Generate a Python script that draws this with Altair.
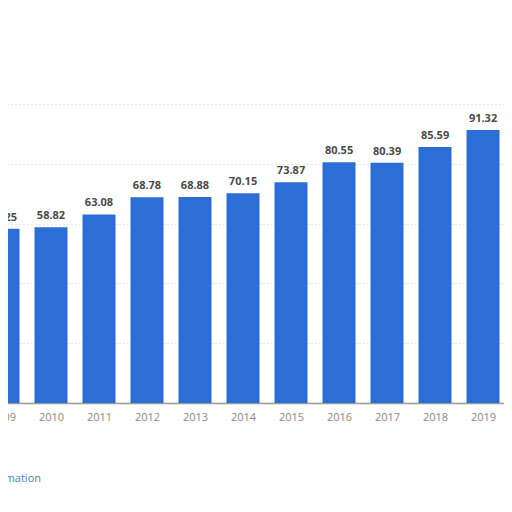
import altair as alt
import pandas as pd

years = [2009, 2010, 2011, 2012, 2013, 2014, 2015, 2016, 2017, 2018, 2019]
values = [58.25, 58.82, 63.08, 68.78, 68.88, 70.15, 73.87, 80.55, 80.39, 85.59, 91.32]
labels = [f"{v:.2f}" for v in values]

df = pd.DataFrame({"year": years, "value": values, "label": labels})

x_scale = alt.Scale(domain=[2009, 2019.437], range=[-5, 496], nice=False,
                    zero=False, padding=0)
y_scale = alt.Scale(domain=[0, 100], nice=False)

base = alt.Chart(df)

bars = base.mark_bar(size=33, color="#2c6ed5", clip=True).encode(
    x=alt.X("year:Q", scale=x_scale,
            axis=alt.Axis(values=years, format="d", title=None, grid=False,
                          ticks=False, labelColor="#8a8a8a", labelFontSize=11,
                          labelFont="Open Sans", labelPadding=8,
                          labelFlush=False, labelOverlap=False, labelBound=False,
                          domainColor="#999999", domainWidth=1.5)),
    y=alt.Y("value:Q", scale=y_scale,
            axis=alt.Axis(values=[20, 40, 60, 80, 100], labels=False, ticks=False,
                          domain=False, title=None, gridColor="#cccccc",
                          gridDash=[1, 3], gridWidth=1)),
)

text = base.mark_text(baseline="bottom", dy=-6, fontSize=11, fontWeight="bold",
                      font="Open Sans", color="#4a4a4a", clip=True).encode(
    x=alt.X("year:Q", scale=x_scale),
    y=alt.Y("value:Q", scale=y_scale),
    text="label:N",
)

note = alt.Chart(pd.DataFrame({"t": ["Additional Information"]})).mark_text(
    align="right", baseline="middle", fontSize=11, font="Open Sans",
    color="#4a84b8"
).encode(x=alt.value(33), y=alt.value(375), text="t:N")

chart = alt.layer(bars, text, note).properties(
    width=496, height=299,
    padding={"left": 0, "top": 96, "right": 0, "bottom": 101},
    autosize=alt.AutoSizeParams(type="none"),
    background="white",
).configure_view(stroke=None)

chart.save("out.html", embed_options={"renderer": "svg", "actions": False})
